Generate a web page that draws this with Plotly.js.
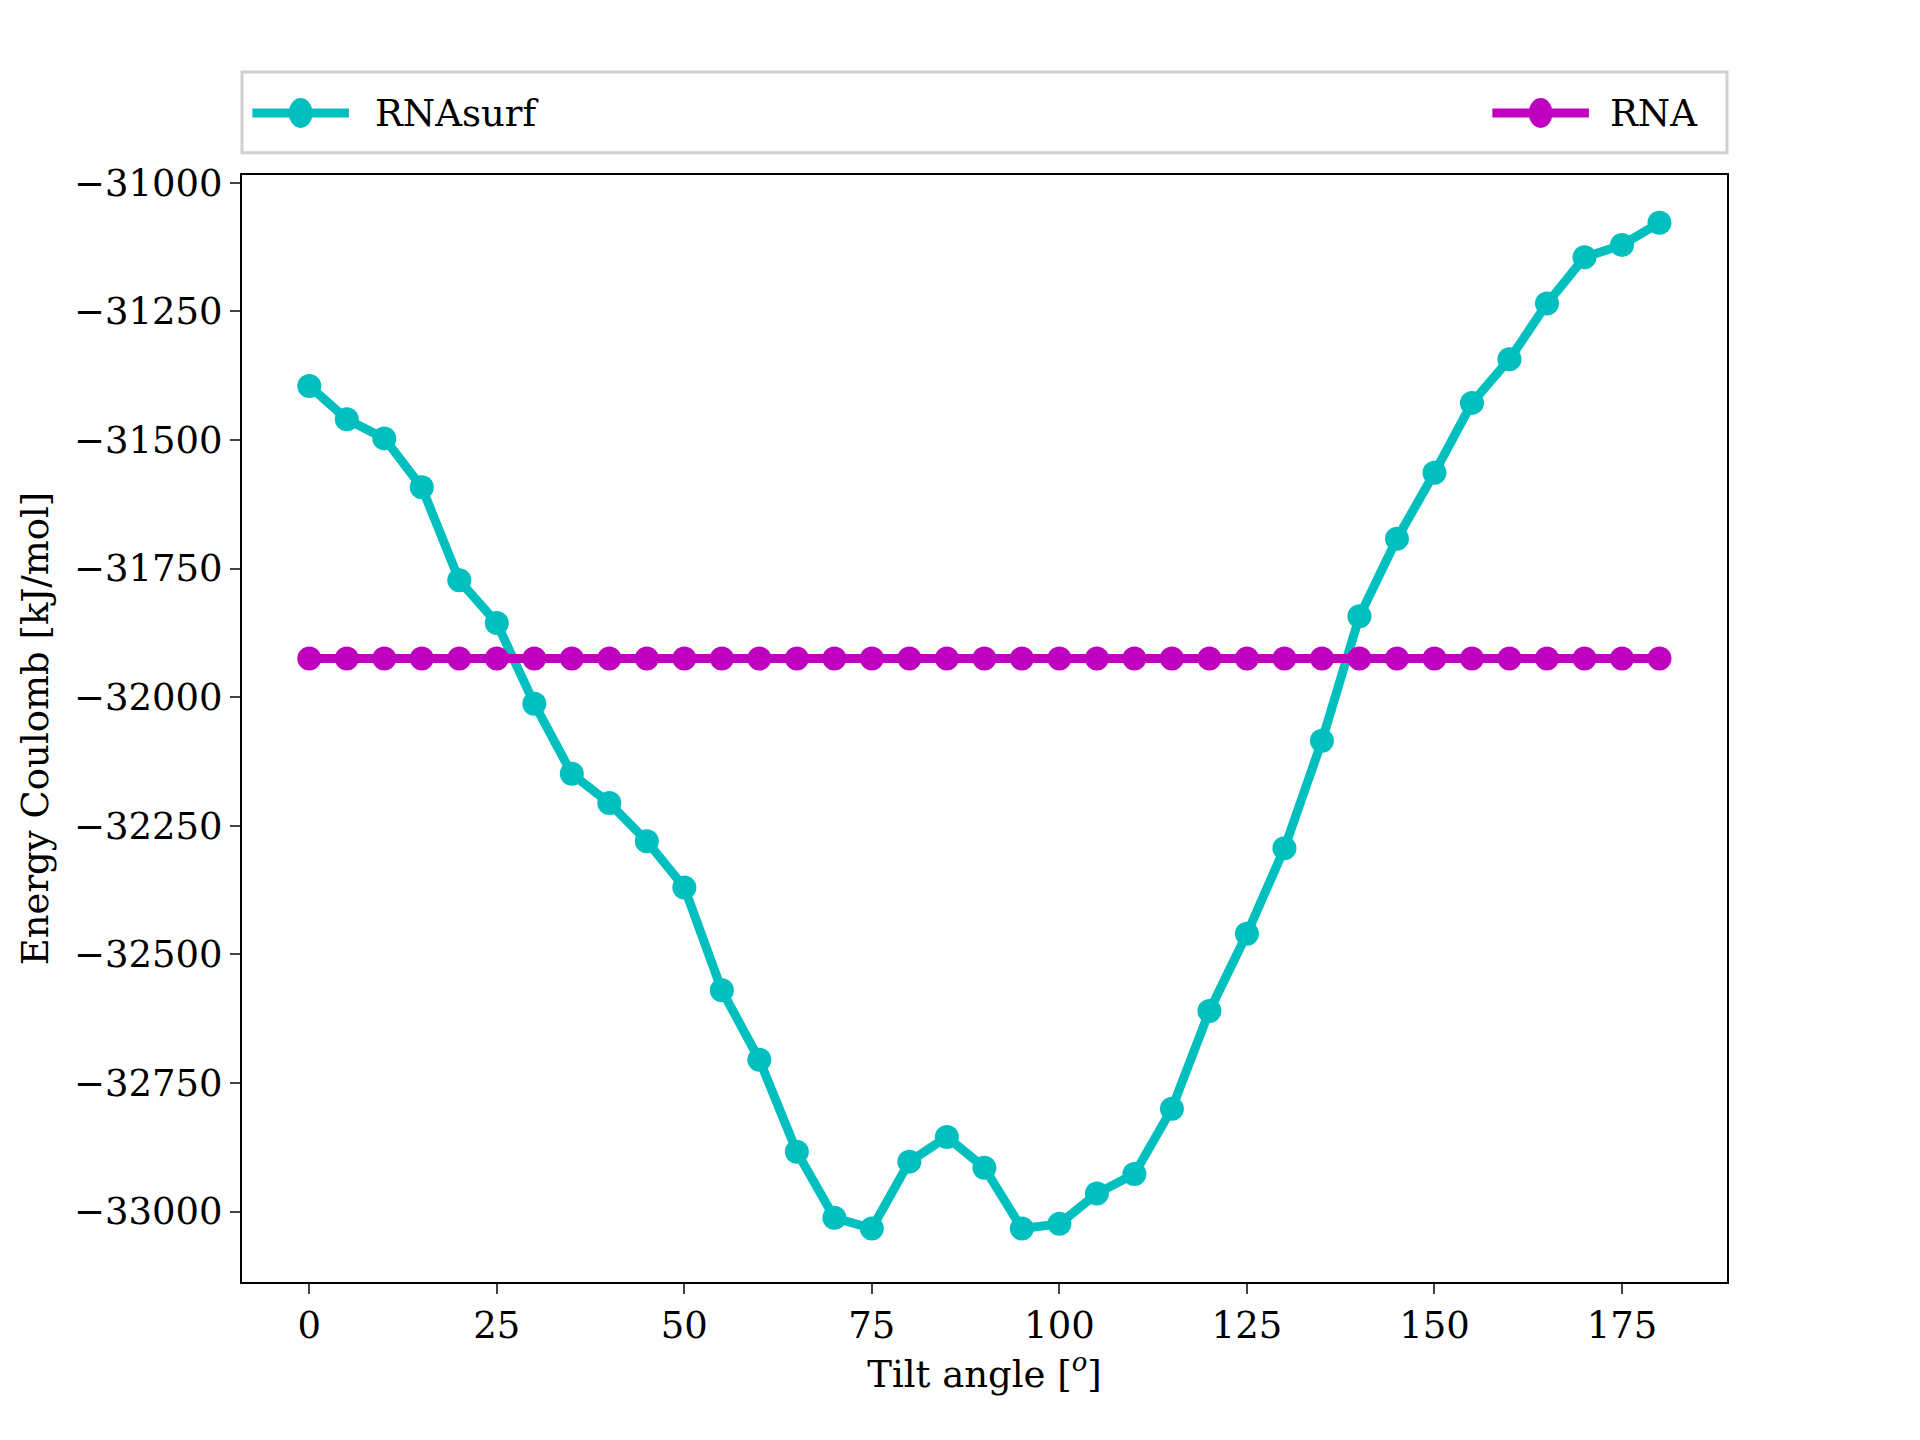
<!DOCTYPE html>
<html>
<head>
<script src="https://cdn.plot.ly/plotly-3.0.1.min.js"></script>
<style>body{margin:0;background:#fff}</style>
</head>
<body>
<div id="chart" style="width:1920px;height:1440px"></div>
<script type="text/javascript">
    /* * Data * */
    var tilt_angles = [];
    for (var a = 0; a <= 180; a += 5) { tilt_angles.push(a); }
    var rnasurf_energy = [-31395, -31460, -31497, -31592, -31773, -31856, -32013, -32149, -32206, -32280,
        -32370, -32570, -32705, -32884, -33012, -33033, -32903, -32855, -32915, -33033,
        -33024, -32965, -32927, -32800, -32610, -32460, -32294, -32085, -31843, -31692,
        -31564, -31428, -31343, -31235, -31145, -31121, -31078];
    var rna_energy = tilt_angles.map(function () { return -31925; });

    var font_family = 'DejaVu Serif, serif';

    var data = [{
        x: tilt_angles, y: rnasurf_energy, name: 'RNAsurf', type: 'scatter', mode: 'lines+markers',
        line: { color: '#00bfbf', width: 9 }, marker: { color: '#00bfbf', size: 24 }
    }, {
        x: tilt_angles, y: rna_energy, name: 'RNA', type: 'scatter', mode: 'lines+markers',
        line: { color: '#bf00bf', width: 9 }, marker: { color: '#bf00bf', size: 24 }
    }];

    var axis_common = {
        showgrid: false, zeroline: false, showline: true, mirror: true,
        linecolor: '#000', linewidth: 2, ticks: 'outside', ticklen: 10, tickwidth: 2,
        tickfont: { family: font_family, size: 37, color: '#000' }
    };

    var layout = {
        width: 1920, height: 1440,
        paper_bgcolor: '#fff', plot_bgcolor: '#fff',
        margin: { l: 242, r: 193, t: 175, b: 158 },
        font: { family: font_family, color: '#000' },
        showlegend: false,
        xaxis: Object.assign({}, axis_common, {
            range: [-8.97, 189], tickvals: [0, 25, 50, 75, 100, 125, 150, 175],
            title: { text: 'Tilt angle [<sup><i>o</i></sup>]', font: { family: font_family, size: 37 }, standoff: 12 }
        }),
        yaxis: Object.assign({}, axis_common, {
            range: [-33137, -30985], tickvals: [-31000, -31250, -31500, -31750, -32000, -32250, -32500, -32750, -33000],
            ticktext: ['\u221231000', '\u221231250', '\u221231500', '\u221231750', '\u221232000', '\u221232250', '\u221232500', '\u221232750', '\u221233000'],
            title: { text: 'Energy Coulomb [kJ/mol]', font: { family: font_family, size: 37 }, standoff: 14 }
        }),
        shapes: [{
            type: 'rect', xref: 'paper', yref: 'paper', x0: 0.0, x1: 1.0, y0: 1.02, y1: 1.093,
            line: { color: '#d0d0d0', width: 3 }, fillcolor: '#fff'
        }, {
            type: 'line', xref: 'paper', yref: 'paper', x0: 0.007, x1: 0.072, y0: 1.056, y1: 1.056,
            line: { color: '#00bfbf', width: 9 }
        }, {
            type: 'line', xref: 'paper', yref: 'paper', x0: 0.842, x1: 0.907, y0: 1.056, y1: 1.056,
            line: { color: '#bf00bf', width: 9 }
        }, {
            type: 'circle', xref: 'paper', yref: 'paper', x0: 0.0315, x1: 0.0475, y0: 1.0425, y1: 1.0695,
            line: { width: 0 }, fillcolor: '#00bfbf'
        }, {
            type: 'circle', xref: 'paper', yref: 'paper', x0: 0.8665, x1: 0.8825, y0: 1.0425, y1: 1.0695,
            line: { width: 0 }, fillcolor: '#bf00bf'
        }],
        annotations: [{
            text: 'RNAsurf', xref: 'paper', yref: 'paper', x: 0.088, y: 1.056, xanchor: 'left', yanchor: 'middle',
            showarrow: false, font: { family: font_family, size: 37 }
        }, {
            text: 'RNA', xref: 'paper', yref: 'paper', x: 0.92, y: 1.056, xanchor: 'left', yanchor: 'middle',
            showarrow: false, font: { family: font_family, size: 37 }
        }]
    };

    Plotly.newPlot(document.getElementById('chart'), data, layout, { displayModeBar: false });
</script>
</body>
</html>
